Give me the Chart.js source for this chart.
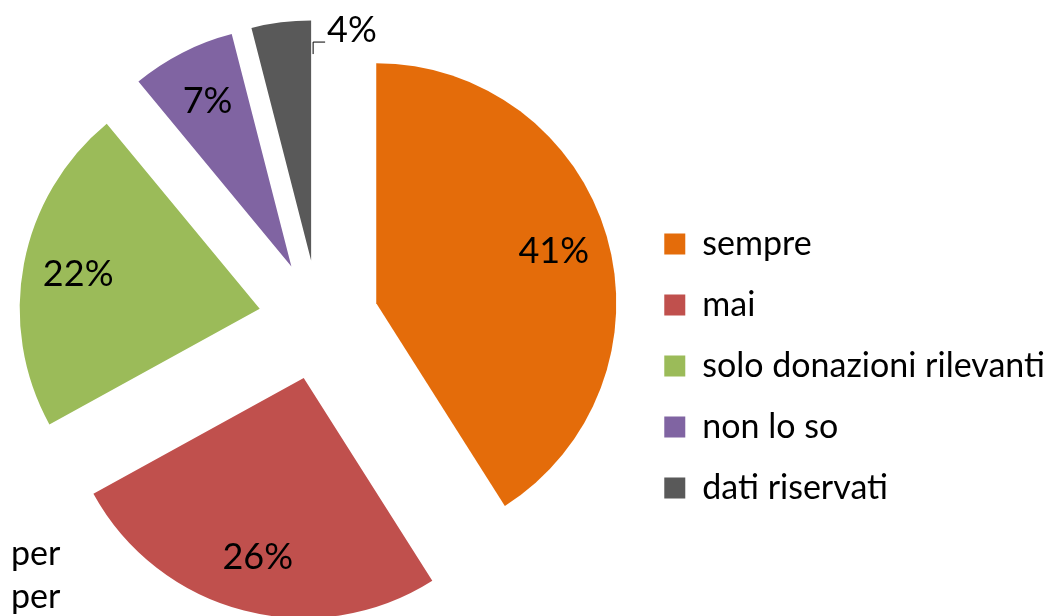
<!DOCTYPE html>
<html>
<head>
<meta charset="utf-8">
<script src="https://cdn.jsdelivr.net/npm/chart.js@4.4.1/dist/chart.umd.min.js"></script>
<style>
  body { margin: 0; background: #fff; }
  canvas { display: block; }
</style>
</head>
<body>
<canvas id="grafico" width="1047" height="616"></canvas>
<script>
// dati
var categorie = ["sempre", "mai", "solo donazioni rilevanti", "non lo so", "dati riservati"];
var percentuali = [41, 26, 22, 7, 4];
var colori = ["#E46C0A", "#C0504D", "#9BBB59", "#8064A2", "#595959"];
var testoTagliato = ["per", "per"];

var FONT = "Lato, 'Open Sans', sans-serif";
var ESPLOSO = 60; // distanza fette dal centro

//Fette esplose: sposta il centro di ogni arco lungo la sua bisettrice
var esplodi = {
    id: "esplodi",
    afterUpdate: function (chart) {
        chart.getDatasetMeta(0).data.forEach(function (arc) {
            var mid = (arc.startAngle + arc.endAngle) / 2;
            arc.x += Math.cos(mid) * ESPLOSO;
            arc.y += Math.sin(mid) * ESPLOSO;
        });
    }
};

//Etichette percentuali
var etichette = {
    id: "etichette",
    afterDatasetsDraw: function (chart) {
        var ctx = chart.ctx;
        var meta = chart.getDatasetMeta(0);
        ctx.save();
        ctx.fillStyle = "#000";
        ctx.font = "36px " + FONT;
        meta.data.forEach(function (arc, i) {
            var vx = arc.x, vy = arc.y;
            var mid = (arc.startAngle + arc.endAngle) / 2;
            var r = arc.outerRadius;
            var testo = percentuali[i] + "%";
            if (percentuali[i] >= 5) {
                ctx.textAlign = "center";
                ctx.textBaseline = "middle";
                ctx.fillText(testo, vx + Math.cos(mid) * r * 0.77, vy + Math.sin(mid) * r * 0.77);
            } else {
                // etichetta esterna con linea guida
                var ex = Math.cos(arc.endAngle), ey = Math.sin(arc.endAngle);
                var x1 = vx + ex * r * 0.86 + 2, y1 = vy + ey * r * 0.86;
                var x2 = vx + ex * r * 0.91 + 2, y2 = vy + ey * r * 0.91;
                ctx.strokeStyle = "#000";
                ctx.lineWidth = 1;
                ctx.beginPath();
                ctx.moveTo(x1, y1);
                ctx.lineTo(x2, y2);
                ctx.lineTo(x2 + 12, y2);
                ctx.stroke();
                ctx.textAlign = "left";
                ctx.textBaseline = "middle";
                ctx.fillText(testo, x2 + 14, y2 - 12);
            }
        });
        // testo tagliato in basso a sinistra
        ctx.font = "34px " + FONT;
        ctx.textAlign = "left";
        ctx.textBaseline = "alphabetic";
        testoTagliato.forEach(function (t, i) {
            ctx.fillText(t, 11, 565 + i * 43);
        });
        ctx.restore();
    }
};

var grafico = new Chart(document.getElementById("grafico"), {
    type: "pie",
    data: {
        labels: categorie,
        datasets: [{
            data: percentuali,
            backgroundColor: colori,
            borderWidth: 0,
            offset: 0,
            hoverOffset: 0,
            radius: 240,
            clip: false
        }]
    },
    options: {
        responsive: false,
        animation: false,
        events: [],
        layout: {
            padding: { top: 24, bottom: 0, left: -18, right: -8 }
        },
        plugins: {
            tooltip: { enabled: false },
            legend: {
                position: "right",
                align: "center",
                title: {
                    display: true,
                    text: "",
                    font: { size: 1 },
                    padding: { top: 46, bottom: 45 }
                },
                labels: {
                    boxWidth: 21,
                    boxHeight: 21,
                    padding: 27,
                    color: "#000",
                    font: { family: FONT, size: 34 }
                }
            }
        }
    },
    plugins: [esplodi, etichette]
});
</script>
</body>
</html>
